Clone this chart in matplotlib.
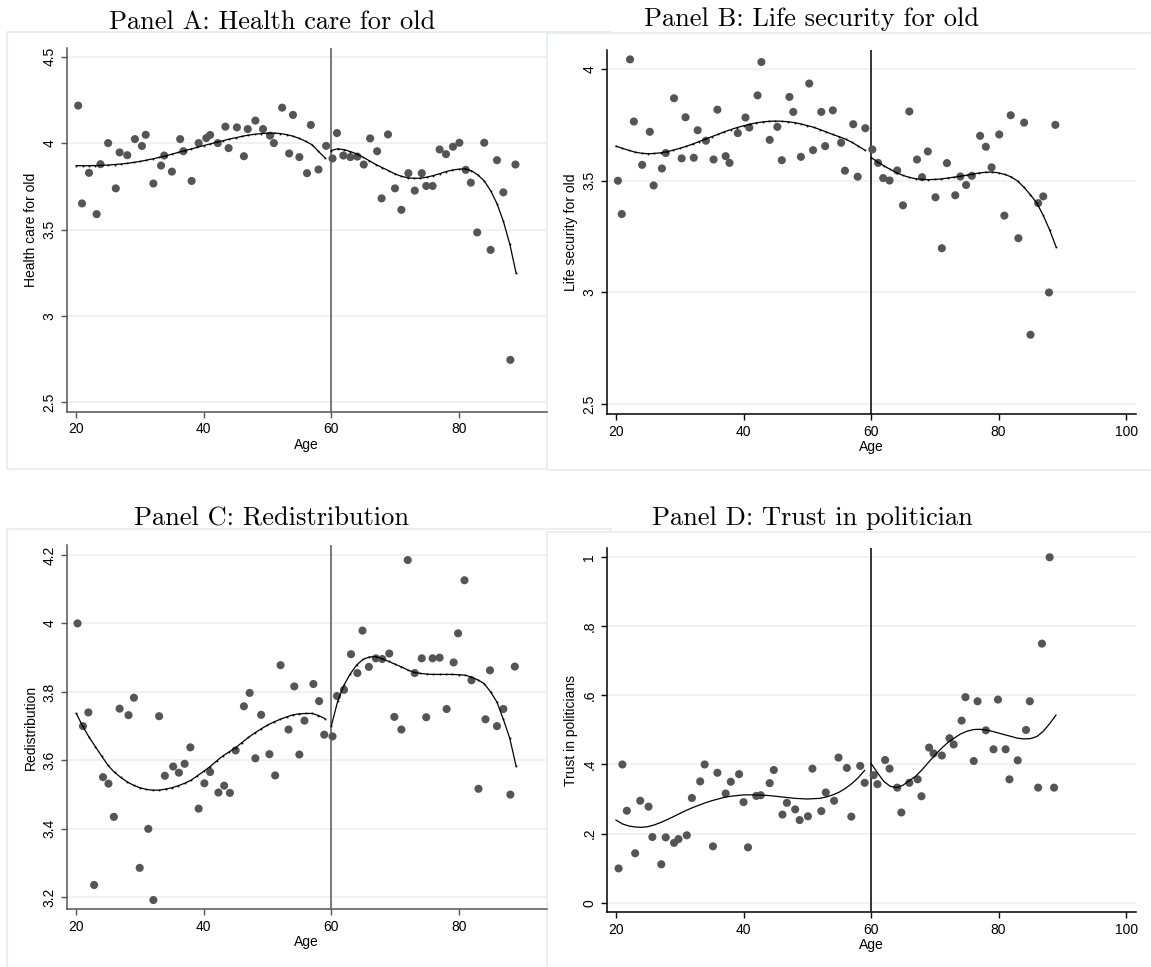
import matplotlib
matplotlib.use('Agg')
import matplotlib.pyplot as plt
from matplotlib.patches import Rectangle

# PARAMS ----------------------------------------------------------------------
plt.rcParams['font.family'] = 'Liberation Sans'
plt.rc('axes', labelsize=10)
plt.rc('xtick', labelsize=10)
plt.rc('ytick', labelsize=10)
# END PARAMS ------------------------------------------------------------------

W, H = 1151, 967

# binned means by age, below / above 60
health_age_lo = [20.3, 20.9, 22.0, 23.2, 23.8, 25.0, 26.2, 26.8, 28.0, 29.2, 30.3, 30.9, 32.1, 33.3,
                 33.8, 35.0, 36.3, 36.8, 38.1, 39.2, 40.4, 41.0, 42.2, 43.4, 43.9, 45.2, 46.3, 46.9,
                 48.1, 49.3, 50.4, 51.0, 52.3, 53.4, 54.0, 55.0, 56.2, 56.8, 58.0, 59.2]
health_val_lo = [4.217, 3.651, 3.828, 3.589, 3.878, 4.000, 3.738, 3.946, 3.930, 4.023, 3.983, 4.048,
                 3.766, 3.870, 3.928, 3.835, 4.023, 3.953, 3.781, 4.000, 4.029, 4.047, 4.000, 4.095,
                 3.971, 4.091, 3.924, 4.081, 4.130, 4.081, 4.043, 4.000, 4.205, 3.940, 4.163, 3.919,
                 3.826, 4.105, 3.847, 3.984]
health_age_hi = [60.2, 60.9, 61.9, 63.0, 64.1, 65.1, 66.1, 67.2, 67.9, 68.9, 70.0, 71.0, 72.1, 73.1,
                 74.2, 74.9, 75.9, 77.0, 78.0, 79.1, 80.1, 81.1, 81.9, 82.9, 84.0, 85.0, 86.0, 87.0,
                 88.1, 88.9]
health_val_hi = [3.911, 4.058, 3.928, 3.919, 3.922, 3.876, 4.027, 3.953, 3.680, 4.050, 3.738, 3.614,
                 3.826, 3.725, 3.826, 3.752, 3.752, 3.963, 3.936, 3.979, 4.002, 3.845, 3.771, 3.483,
                 4.002, 3.382, 3.901, 3.715, 2.746, 3.876]

life_age_lo = [20.3, 20.9, 22.2, 22.8, 24.1, 25.3, 25.9, 27.2, 27.8, 29.1, 30.3, 30.9, 32.2, 32.8,
               34.1, 35.3, 35.9, 37.2, 37.8, 39.1, 40.3, 40.9, 42.2, 42.8, 44.1, 45.3, 46.0, 47.2,
               47.8, 49.0, 50.3, 50.9, 52.2, 52.8, 54.0, 55.3, 55.9, 57.2, 57.9, 59.1]
life_val_lo = [3.500, 3.351, 4.043, 3.765, 3.571, 3.719, 3.479, 3.555, 3.624, 3.869, 3.600, 3.784,
               3.603, 3.726, 3.679, 3.595, 3.818, 3.610, 3.580, 3.713, 3.783, 3.738, 3.882, 4.031,
               3.683, 3.741, 3.592, 3.875, 3.808, 3.607, 3.935, 3.637, 3.808, 3.655, 3.815, 3.670,
               3.545, 3.753, 3.518, 3.735]
life_age_hi = [60.2, 61.1, 61.9, 62.9, 64.1, 65.0, 66.0, 67.2, 68.0, 68.9, 70.1, 71.1, 71.9, 73.2,
               74.0, 74.9, 75.8, 77.1, 78.0, 78.9, 80.1, 80.9, 81.9, 83.1, 84.0, 85.0, 86.2, 87.0,
               87.9, 88.9]
life_val_hi = [3.640, 3.580, 3.512, 3.501, 3.546, 3.390, 3.810, 3.595, 3.516, 3.631, 3.426, 3.198,
               3.579, 3.435, 3.519, 3.481, 3.522, 3.701, 3.652, 3.560, 3.707, 3.344, 3.793, 3.243,
               3.760, 2.811, 3.400, 3.430, 3.000, 3.750]

redis_age_lo = [20.2, 21.05, 21.9, 22.8, 24.2, 25.05, 25.9, 26.8, 28.2, 29.05, 29.95, 31.3, 32.1, 33.0,
                33.9, 35.2, 36.1, 37.0, 37.9, 39.2, 40.1, 41.0, 42.3, 43.2, 44.1, 45.0, 46.3, 47.2,
                48.1, 49.0, 50.3, 51.2, 52.05, 53.3, 54.2, 55.0, 55.8, 57.2, 58.1, 58.9]
redis_val_lo = [4.000, 3.700, 3.740, 3.236, 3.551, 3.532, 3.435, 3.751, 3.732, 3.783, 3.286, 3.400,
                3.192, 3.729, 3.555, 3.582, 3.564, 3.590, 3.638, 3.459, 3.533, 3.566, 3.506, 3.526,
                3.505, 3.629, 3.758, 3.797, 3.606, 3.733, 3.618, 3.556, 3.878, 3.690, 3.816, 3.617,
                3.716, 3.823, 3.773, 3.675]
redis_age_hi = [60.2, 60.9, 62.0, 63.1, 64.1, 64.9, 65.9, 67.0, 68.0, 69.1, 69.9, 71.0, 72.0, 73.1,
                74.2, 74.9, 75.9, 77.0, 78.1, 79.2, 79.9, 80.9, 82.0, 83.1, 84.2, 84.9, 86.0, 87.0,
                88.1, 88.8]
redis_val_hi = [3.670, 3.788, 3.806, 3.910, 3.855, 3.979, 3.873, 3.898, 3.896, 3.912, 3.727, 3.690,
                4.185, 3.855, 3.898, 3.726, 3.898, 3.900, 3.750, 3.886, 3.971, 4.126, 3.834, 3.517,
                3.720, 3.863, 3.700, 3.750, 3.500, 3.874]

trust_age_lo = [20.4, 21.0, 21.7, 23.0, 23.8, 25.1, 25.7, 27.1, 27.8, 29.1, 29.8, 31.1, 31.9, 33.2,
                33.9, 35.2, 35.9, 37.2, 38.0, 39.3, 40.0, 40.7, 42.0, 42.7, 44.1, 44.75, 46.1, 46.8,
                48.1, 48.8, 50.1, 50.8, 52.2, 52.9, 54.2, 54.9, 56.2, 56.9, 58.3, 59.0]
trust_val_lo = [0.099, 0.400, 0.266, 0.143, 0.295, 0.278, 0.190, 0.111, 0.189, 0.173, 0.184, 0.195,
                0.303, 0.351, 0.400, 0.163, 0.376, 0.316, 0.350, 0.372, 0.291, 0.160, 0.309, 0.311,
                0.346, 0.384, 0.255, 0.289, 0.270, 0.239, 0.250, 0.388, 0.265, 0.319, 0.295, 0.420,
                0.390, 0.249, 0.396, 0.347]
trust_age_hi = [60.4, 61.0, 62.2, 62.9, 64.1, 64.75, 66.0, 67.3, 67.9, 69.1, 69.8, 71.1, 72.3, 72.95,
                74.2, 74.8, 76.1, 76.7, 78.0, 79.2, 79.9, 81.1, 81.7, 83.0, 84.3, 84.9, 86.2, 86.8,
                88.0, 88.7]
trust_val_hi = [0.369, 0.343, 0.413, 0.388, 0.333, 0.261, 0.347, 0.357, 0.308, 0.449, 0.432, 0.426,
                0.476, 0.458, 0.527, 0.595, 0.410, 0.583, 0.499, 0.444, 0.588, 0.444, 0.357, 0.412,
                0.500, 0.583, 0.333, 0.750, 1.000, 0.333]

# fitted polynomials, evaluated at each whole age on either side of 60
fit_age_lo = list(range(20, 60))
fit_age_hi = list(range(60, 90))

health_fit_lo = [3.870, 3.869, 3.869, 3.870, 3.871, 3.873, 3.876, 3.879, 3.883, 3.888, 3.894, 3.901,
                 3.909, 3.917, 3.926, 3.936, 3.946, 3.956, 3.966, 3.976, 3.986, 3.995, 4.005, 4.014,
                 4.023, 4.031, 4.039, 4.046, 4.051, 4.055, 4.057, 4.058, 4.055, 4.049, 4.040, 4.027,
                 4.010, 3.990, 3.952, 3.915]
health_fit_hi = [3.957, 3.967, 3.962, 3.951, 3.937, 3.918, 3.897, 3.876, 3.858, 3.840, 3.822, 3.808,
                 3.799, 3.796, 3.797, 3.803, 3.812, 3.823, 3.835, 3.844, 3.849, 3.851, 3.840, 3.816,
                 3.781, 3.725, 3.650, 3.548, 3.417, 3.248]

life_fit_lo = [3.655, 3.645, 3.636, 3.628, 3.623, 3.621, 3.622, 3.625, 3.630, 3.637, 3.645, 3.654,
               3.664, 3.675, 3.686, 3.697, 3.708, 3.719, 3.729, 3.738, 3.746, 3.753, 3.759, 3.763,
               3.766, 3.767, 3.766, 3.764, 3.760, 3.754, 3.747, 3.739, 3.729, 3.718, 3.707, 3.697,
               3.686, 3.672, 3.655, 3.637]
life_fit_hi = [3.604, 3.585, 3.567, 3.551, 3.536, 3.524, 3.515, 3.509, 3.506, 3.505, 3.506, 3.508,
               3.512, 3.516, 3.520, 3.525, 3.530, 3.535, 3.538, 3.539, 3.535, 3.528, 3.517, 3.498,
               3.470, 3.437, 3.400, 3.345, 3.280, 3.205]

redis_fit_lo = [3.737, 3.700, 3.668, 3.640, 3.612, 3.585, 3.565, 3.550, 3.537, 3.527, 3.520, 3.515,
                3.513, 3.513, 3.516, 3.520, 3.526, 3.533, 3.542, 3.555, 3.568, 3.582, 3.598, 3.613,
                3.625, 3.637, 3.652, 3.667, 3.680, 3.692, 3.703, 3.712, 3.720, 3.727, 3.733, 3.736,
                3.737, 3.737, 3.731, 3.722]
redis_fit_hi = [3.700, 3.772, 3.820, 3.853, 3.879, 3.895, 3.902, 3.903, 3.897, 3.889, 3.881, 3.873,
                3.864, 3.857, 3.854, 3.852, 3.851, 3.851, 3.851, 3.851, 3.850, 3.849, 3.843, 3.835,
                3.824, 3.800, 3.770, 3.720, 3.665, 3.583]

trust_fit_lo = [0.239, 0.228, 0.222, 0.219, 0.218, 0.220, 0.225, 0.232, 0.240, 0.249, 0.258, 0.267,
                0.275, 0.282, 0.289, 0.295, 0.300, 0.305, 0.308, 0.310, 0.312, 0.312, 0.312, 0.311,
                0.310, 0.308, 0.306, 0.304, 0.302, 0.301, 0.300, 0.301, 0.302, 0.306, 0.312, 0.320,
                0.331, 0.345, 0.362, 0.383]
trust_fit_hi = [0.403, 0.376, 0.351, 0.337, 0.333, 0.340, 0.353, 0.366, 0.385, 0.406, 0.427, 0.446,
                0.463, 0.476, 0.488, 0.496, 0.501, 0.502, 0.500, 0.496, 0.491, 0.486, 0.481, 0.476,
                0.474, 0.475, 0.481, 0.496, 0.518, 0.543]

health_ticks = [2.5, 3, 3.5, 4, 4.5]
life_ticks = [2.5, 3, 3.5, 4]
redis_ticks = [3.2, 3.4, 3.6, 3.8, 4, 4.2]
trust_ticks = [0, 0.2, 0.4, 0.6, 0.8, 1]
trust_tick_labels = ['0', '.2', '.4', '.6', '.8', '1']


def px_axes(l, t, r, b):
    # pixel box (left, top, right, bottom) -> figure fraction rect
    return [l / W, 1 - b / H, (r - l) / W, (b - t) / H]


fig = plt.figure(figsize=(W / 100, H / 100), dpi=100)

# light frames around each sub-graph, later ones overlap earlier ones
for (l, t, r, b, z) in [(7, 32, 611, 469, -3), (547, 33, 1160, 470, -2),
                        (7, 529, 611, 975, -3), (547, 532, 1160, 975, -2)]:
    fig.patches.append(Rectangle((l / W, 1 - b / H), (r - l) / W, (b - t) / H,
                                 transform=fig.transFigure, facecolor='white',
                                 edgecolor='#e6eef0', lw=1.2, zorder=z))

panels = [
    dict(rect=px_axes(66.7, 47.5, 546.7, 411.7), xlim=(18.5, 93.8), ylim=(2.446, 4.553),
         xticks=[20, 40, 60, 80], yticks=health_ticks, ylabels=['2.5', '3', '3.5', '4', '4.5'],
         ylabel='Health care for old', title='Panel A: Health care for old', tx=272, ty=29,
         lo=(health_age_lo, health_val_lo, health_fit_lo), hi=(health_age_hi, health_val_hi, health_fit_hi),
         axcol='#555555', dots=True),
    dict(rect=px_axes(606.7, 50, 1135.7, 414.3), xlim=(18.54, 101.5), ylim=(2.455, 4.085),
         xticks=[20, 40, 60, 80, 100], yticks=life_ticks, ylabels=['2.5', '3', '3.5', '4'],
         ylabel='Life security for old', title='Panel B: Life security for old', tx=812, ty=26,
         lo=(life_age_lo, life_val_lo, life_fit_lo), hi=(life_age_hi, life_val_hi, life_fit_hi),
         axcol='black', dots=True),
    dict(rect=px_axes(66.7, 545, 546.7, 909.3), xlim=(18.5, 93.8), ylim=(3.165, 4.229),
         xticks=[20, 40, 60, 80], yticks=redis_ticks, ylabels=['3.2', '3.4', '3.6', '3.8', '4', '4.2'],
         ylabel='Redistribution', title='Panel C: Redistribution', tx=271, ty=526,
         lo=(redis_age_lo, redis_val_lo, redis_fit_lo), hi=(redis_age_hi, redis_val_hi, redis_fit_hi),
         axcol='#555555', dots=True),
    dict(rect=px_axes(606.7, 548.3, 1135.7, 912.3), xlim=(18.54, 101.5), ylim=(-0.028, 1.026),
         xticks=[20, 40, 60, 80, 100], yticks=trust_ticks, ylabels=trust_tick_labels,
         ylabel='Trust in politicians', title='Panel D: Trust in politician', tx=812, ty=525,
         lo=(trust_age_lo, trust_val_lo, trust_fit_lo), hi=(trust_age_hi, trust_val_hi, trust_fit_hi),
         axcol='black', dots=False),
]

for p in panels:
    ax = fig.add_axes(p['rect'])
    ax.set_facecolor('none')
    ax.set_xlim(*p['xlim'])
    ax.set_ylim(*p['ylim'])

    for gy in p['yticks']:
        ax.axhline(gy, color='#e9f1f2', lw=1.2, zorder=0)

    ax.axvline(60, color=p['axcol'], lw=1.1, zorder=1)

    for (ages, vals, fit), fit_x in [(p['lo'], fit_age_lo), (p['hi'], fit_age_hi)]:
        ax.scatter(ages, vals, s=34, color='#555555', edgecolors='none', zorder=2)
        ax.plot(fit_x, fit, color='black', lw=0.9, zorder=3,
                marker='s' if p['dots'] else None, markersize=1.2, markeredgewidth=0)

    for side in ['top', 'right']:
        ax.spines[side].set_visible(False)
    for side in ['left', 'bottom']:
        ax.spines[side].set_color(p['axcol'])
        ax.spines[side].set_linewidth(1.1)

    ax.set_xticks(p['xticks'])
    ax.set_yticks(p['yticks'])
    ax.set_yticklabels(p['ylabels'], rotation=90, va='center')
    ax.tick_params(axis='both', length=4.5, width=1.0, color=p['axcol'], pad=3)
    ax.set_xlabel('Age', labelpad=1)
    ax.set_ylabel(p['ylabel'], labelpad=3)

    fig.text(p['tx'] / W, 1 - p['ty'] / H, p['title'], family='cmr10', fontsize=19,
             ha='center', va='baseline')

fig.savefig('out.png', dpi=100)
plt.close(fig)
